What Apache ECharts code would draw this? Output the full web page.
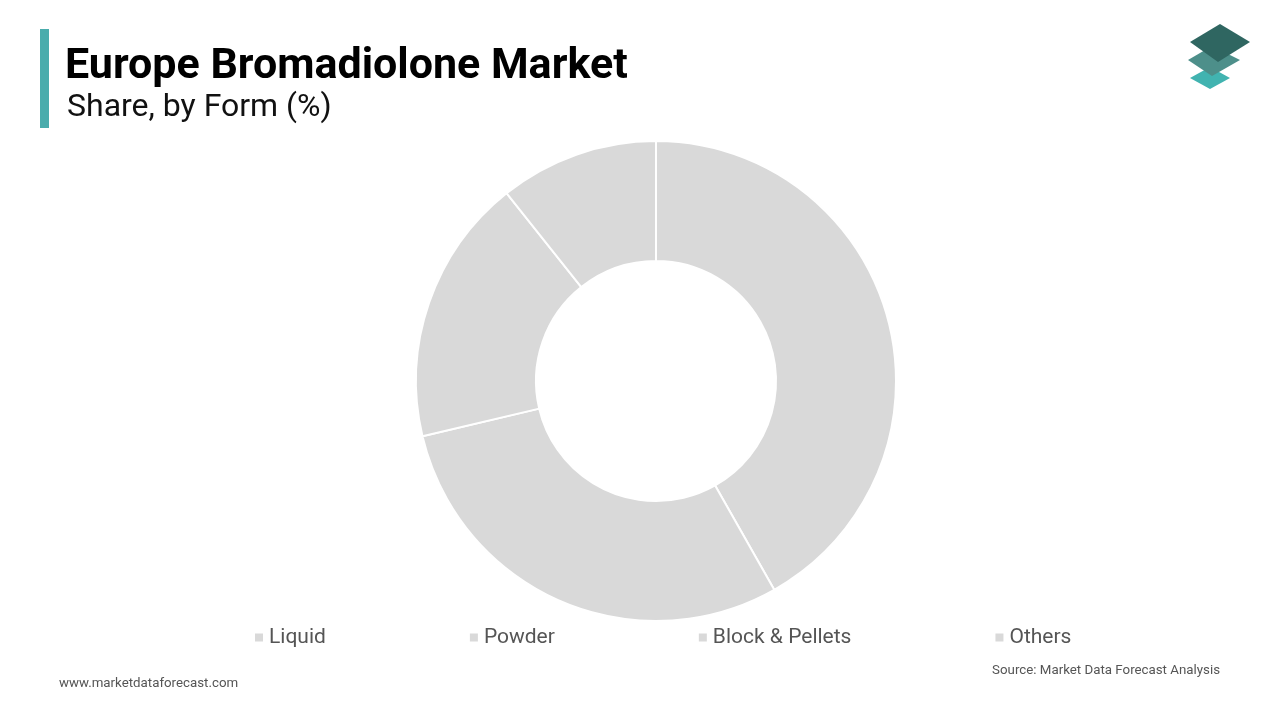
<!DOCTYPE html>
<html>
<head>
<meta charset="utf-8">
<script src="https://cdn.jsdelivr.net/npm/echarts@6/dist/echarts.min.js"></script>
<style>
  html, body { margin: 0; padding: 0; background: #fff; }
  #chart { width: 1280px; height: 720px; }
</style>
</head>
<body>
<div id="chart"></div>
<script>
// share by form (%)
var categories = ['Liquid', 'Powder', 'Block & Pellets', 'Others'];
var shares = [41.8, 29.5, 18.0, 10.7];

var chart = echarts.init(document.getElementById('chart'), null, { renderer: 'canvas' });

var pieData = categories.map(function (name, i) {
  return { name: name, value: shares[i] };
});

var option = {
  backgroundColor: '#ffffff',
  animation: false,
  color: ['#d9d9d9', '#d9d9d9', '#d9d9d9', '#d9d9d9'],
  title: [{
    text: 'Europe Bromadiolone Market',
    left: 60,
    top: 41,
    textStyle: { fontFamily: 'Roboto', fontWeight: 'bold', fontSize: 43, color: '#000' }
  }, {
    text: 'Share, by Form (%)',
    left: 62,
    top: 87,
    textStyle: { fontFamily: 'Roboto', fontWeight: 'normal', fontSize: 32, color: '#111' }
  }],
  legend: {
    bottom: 67,
    left: 248,
    itemWidth: 10,
    itemHeight: 10,
    itemGap: 142,
    icon: 'rect',
    textStyle: { fontFamily: 'Roboto', fontSize: 21, color: '#555' },
    data: categories
  },
  series: [{
    type: 'pie',
    center: [656, 381],
    radius: [120, 240],
    startAngle: 90,
    clockwise: true,
    label: { show: false },
    labelLine: { show: false },
    itemStyle: { borderColor: '#fff', borderWidth: 2 },
    emphasis: { disabled: true },
    data: pieData
  }],
  graphic: [
    // accent bar beside the title
    { type: 'rect', shape: { x: 40, y: 29, width: 9, height: 99 }, style: { fill: '#4aacac' } },
    // logo
    { type: 'polygon', shape: { points: [[1210, 89], [1230, 78], [1210, 67], [1190, 78]] }, style: { fill: '#41b3b0' } },
    { type: 'polygon', shape: { points: [[1212, 76], [1240, 60], [1212, 46], [1188, 60]] }, style: { fill: '#4d8f8a' } },
    { type: 'polygon', shape: { points: [[1218, 62], [1250, 42], [1220, 24], [1190, 42]] }, style: { fill: '#2f6661' } },
    // footer texts
    { type: 'text', left: 59, top: 677, style: { text: 'www.marketdataforecast.com', font: '13.3px Roboto', fill: '#555' } },
    { type: 'text', right: 60, top: 664, style: { text: 'Source: Market Data Forecast Analysis', font: '13.3px Roboto', fill: '#555' } }
  ]
};

chart.setOption(option);
</script>
</body>
</html>
